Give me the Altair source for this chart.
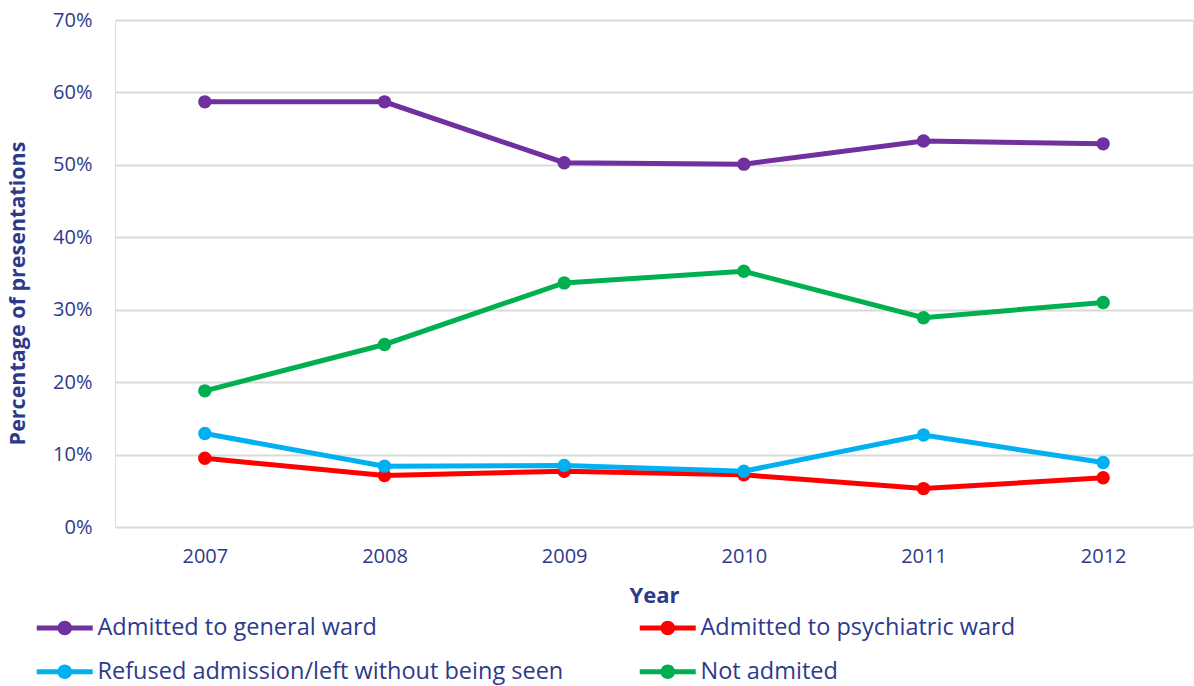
import altair as alt
import pandas as pd

# Share of presentations by outcome, per year (percent)
years = ["2007", "2008", "2009", "2010", "2011", "2012"]
general_ward = [58.7, 58.7, 50.3, 50.1, 53.3, 52.9]
psychiatric_ward = [9.5, 7.1, 7.7, 7.2, 5.3, 6.8]
refused_left = [12.9, 8.4, 8.5, 7.7, 12.7, 8.9]
not_admitted = [18.8, 25.2, 33.7, 35.3, 28.9, 31.0]

series_names = [
    "Admitted to general ward",
    "Admitted to psychiatric ward",
    "Refused admission/left without being seen",
    "Not admited",
]
series_values = [general_ward, psychiatric_ward, refused_left, not_admitted]
series_colors = ["#7030A0", "#FF0000", "#00B0F0", "#00B050"]
y_ticks = [0, 10, 20, 30, 40, 50, 60, 70]

rows = []
for order, (name, values) in enumerate(zip(series_names, series_values)):
    for year, v in zip(years, values):
        rows.append({"Year": year, "Outcome": name, "Percent": v, "order": order})
df = pd.DataFrame(rows)

TEXT = "#2D3A8C"
FONT = "Open Sans"

# legend swatch: a short line with a dot in its middle
swatch = "M-3.5,0L3.5,0M-0.6,0A0.6,0.6,0,1,1,0.6,0A0.6,0.6,0,1,1,-0.6,0Z"

chart = (
    alt.Chart(df)
    .mark_line(strokeWidth=5, point=alt.OverlayMarkDef(filled=True, size=180, opacity=1))
    .encode(
        x=alt.X(
            "Year:O",
            sort=years,
            scale=alt.Scale(type="point", padding=0.5),
            axis=alt.Axis(
                title="Year",
                labelAngle=0,
                labelFontSize=20,
                labelColor=TEXT,
                labelFont=FONT,
                labelPadding=19,
                ticks=False,
                domain=False,
                grid=False,
                gridOpacity=0,
                titleFontSize=22,
                titleFontWeight="bold",
                titleColor=TEXT,
                titleFont=FONT,
                titlePadding=19,
            ),
        ),
        y=alt.Y(
            "Percent:Q",
            scale=alt.Scale(domain=[0, 70], nice=False),
            axis=alt.Axis(
                title="Percentage of presentations",
                values=y_ticks,
                labelExpr="datum.value + '%'",
                labelFontSize=20,
                labelColor=TEXT,
                labelFont=FONT,
                labelPadding=23,
                ticks=False,
                domain=False,
                gridColor="#D9D9D9",
                gridWidth=2,
                titleFontSize=21.5,
                titleFontWeight="bold",
                titleColor=TEXT,
                titleFont=FONT,
                titleAngle=270,
                titleX=-97,
                titleY=273,
                titleBaseline="middle",
                titleAlign="center",
            ),
        ),
        color=alt.Color(
            "Outcome:N",
            sort=series_names,
            scale=alt.Scale(domain=series_names, range=series_colors),
            legend=alt.Legend(
                title=None,
                orient="none",
                legendX=-62,
                legendY=596,
                direction="horizontal",
                columns=2,
                columnPadding=65,
                rowPadding=13,
                symbolType=swatch,
                symbolSize=256,
                symbolStrokeWidth=5,
                labelFontSize=23.5,
                labelColor=TEXT,
                labelFont=FONT,
                labelOffset=21,
                labelLimit=600,
                padding=0,
            ),
        ),
        order="order:Q",
    )
    .properties(
        width=1078,
        height=507,
        autosize=alt.AutoSizeParams(type="none"),
        padding={"left": 115, "top": 20, "right": 1, "bottom": 159},
    )
    .configure_view(stroke="transparent", strokeWidth=0, strokeOpacity=0)
    .configure_axisX(grid=False, domain=False)
    .configure_axisY(domain=False)
    .configure(background="white")
)

chart.save("out.html", embed_options={"renderer": "svg", "actions": False})
